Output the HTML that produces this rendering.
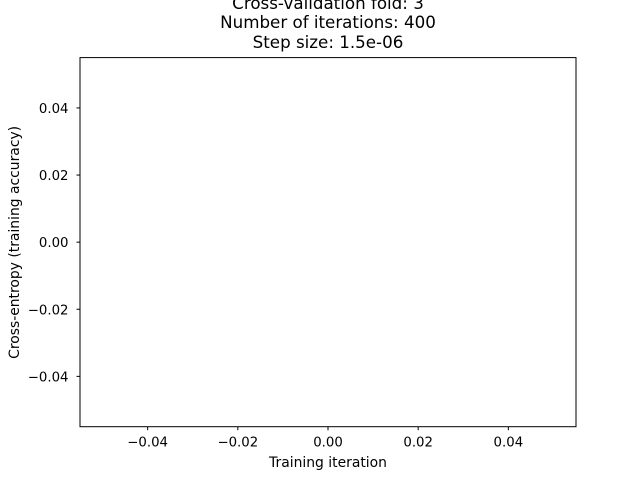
<!DOCTYPE html>
<html><head><meta charset="utf-8">
<style>
html,body{margin:0;padding:0;background:#fff;}
svg{display:block;font-family:"DejaVu Sans","Liberation Sans",sans-serif;}
</style></head>
<body>
<svg id="chart" width="640" height="480" viewBox="0 0 640 480">
  <rect x="0" y="0" width="640" height="480" fill="#fff"/>
  <g id="title" font-size="16.7" text-anchor="middle" fill="#000">
    <text x="328" y="9">Cross-validation fold: 3</text>
    <text x="328" y="28">Number of iterations: 400</text>
    <text x="328" y="48">Step size: 1.5e-06</text>
  </g>
  <g id="series"></g>
  <g id="xticks"></g>
  <g id="yticks"></g>
  <rect x="80" y="57.6" width="496" height="369.1" fill="none" stroke="#000" stroke-width="1"/>
  <text x="328" y="467" font-size="13.9" text-anchor="middle">Training iteration</text>
  <text x="0" y="0" font-size="13.9" text-anchor="middle" transform="translate(19,242.4) rotate(-90)">Cross-entropy (training accuracy)</text>
</svg>
<script>
const xTicks = [-0.04, -0.02, 0.00, 0.02, 0.04];
const yTicks = [-0.04, -0.02, 0.00, 0.02, 0.04];
const xValues = [];
const yValues = [];
const xDomain = [-0.055, 0.055];
const yDomain = [-0.055, 0.055];

const L = 80, R = 576, T = 57.6, B = 426.7;
const NS = 'http://www.w3.org/2000/svg';
function sx(v){ return L + (v - xDomain[0]) / (xDomain[1] - xDomain[0]) * (R - L); }
function sy(v){ return B - (v - yDomain[0]) / (yDomain[1] - yDomain[0]) * (B - T); }
function fmt(v){ return (v < 0 ? '\u22120' : '0') + '.' + Math.abs(v).toFixed(2).split('.')[1]; }

const xg = document.getElementById('xticks');
xTicks.forEach(v => {
  const x = sx(v);
  const ln = document.createElementNS(NS, 'line');
  ln.setAttribute('x1', x); ln.setAttribute('x2', x);
  ln.setAttribute('y1', B); ln.setAttribute('y2', B + 3.5);
  ln.setAttribute('stroke', '#000');
  
  
  xg.appendChild(ln);
  const t = document.createElementNS(NS, 'text');
  t.setAttribute('x', x); t.setAttribute('y', B + 20);
  t.setAttribute('font-size', '13.3'); t.setAttribute('text-anchor', 'middle');
  t.textContent = fmt(v);
  
  
  xg.appendChild(t);
});
const yg = document.getElementById('yticks');
yTicks.forEach(v => {
  const y = sy(v);
  const ln = document.createElementNS(NS, 'line');
  ln.setAttribute('x1', L - 3.5); ln.setAttribute('x2', L);
  ln.setAttribute('y1', y); ln.setAttribute('y2', y);
  ln.setAttribute('stroke', '#000');
  
  
  yg.appendChild(ln);
  const t = document.createElementNS(NS, 'text');
  t.setAttribute('x', L - 11.5); t.setAttribute('y', y + 5);
  t.setAttribute('font-size', '13.3'); t.setAttribute('text-anchor', 'end');
  t.textContent = fmt(v);
  
  
  yg.appendChild(t);
});
if (xValues.length) {
  const p = document.createElementNS(NS, 'polyline');
  p.setAttribute('points', xValues.map((x, i) => sx(x) + ',' + sy(yValues[i])).join(' '));
  p.setAttribute('fill', 'none'); p.setAttribute('stroke', '#1f77b4'); p.setAttribute('stroke-width', '1.5');
  
  
  document.getElementById('series').appendChild(p);
}
</script>
</body></html>
